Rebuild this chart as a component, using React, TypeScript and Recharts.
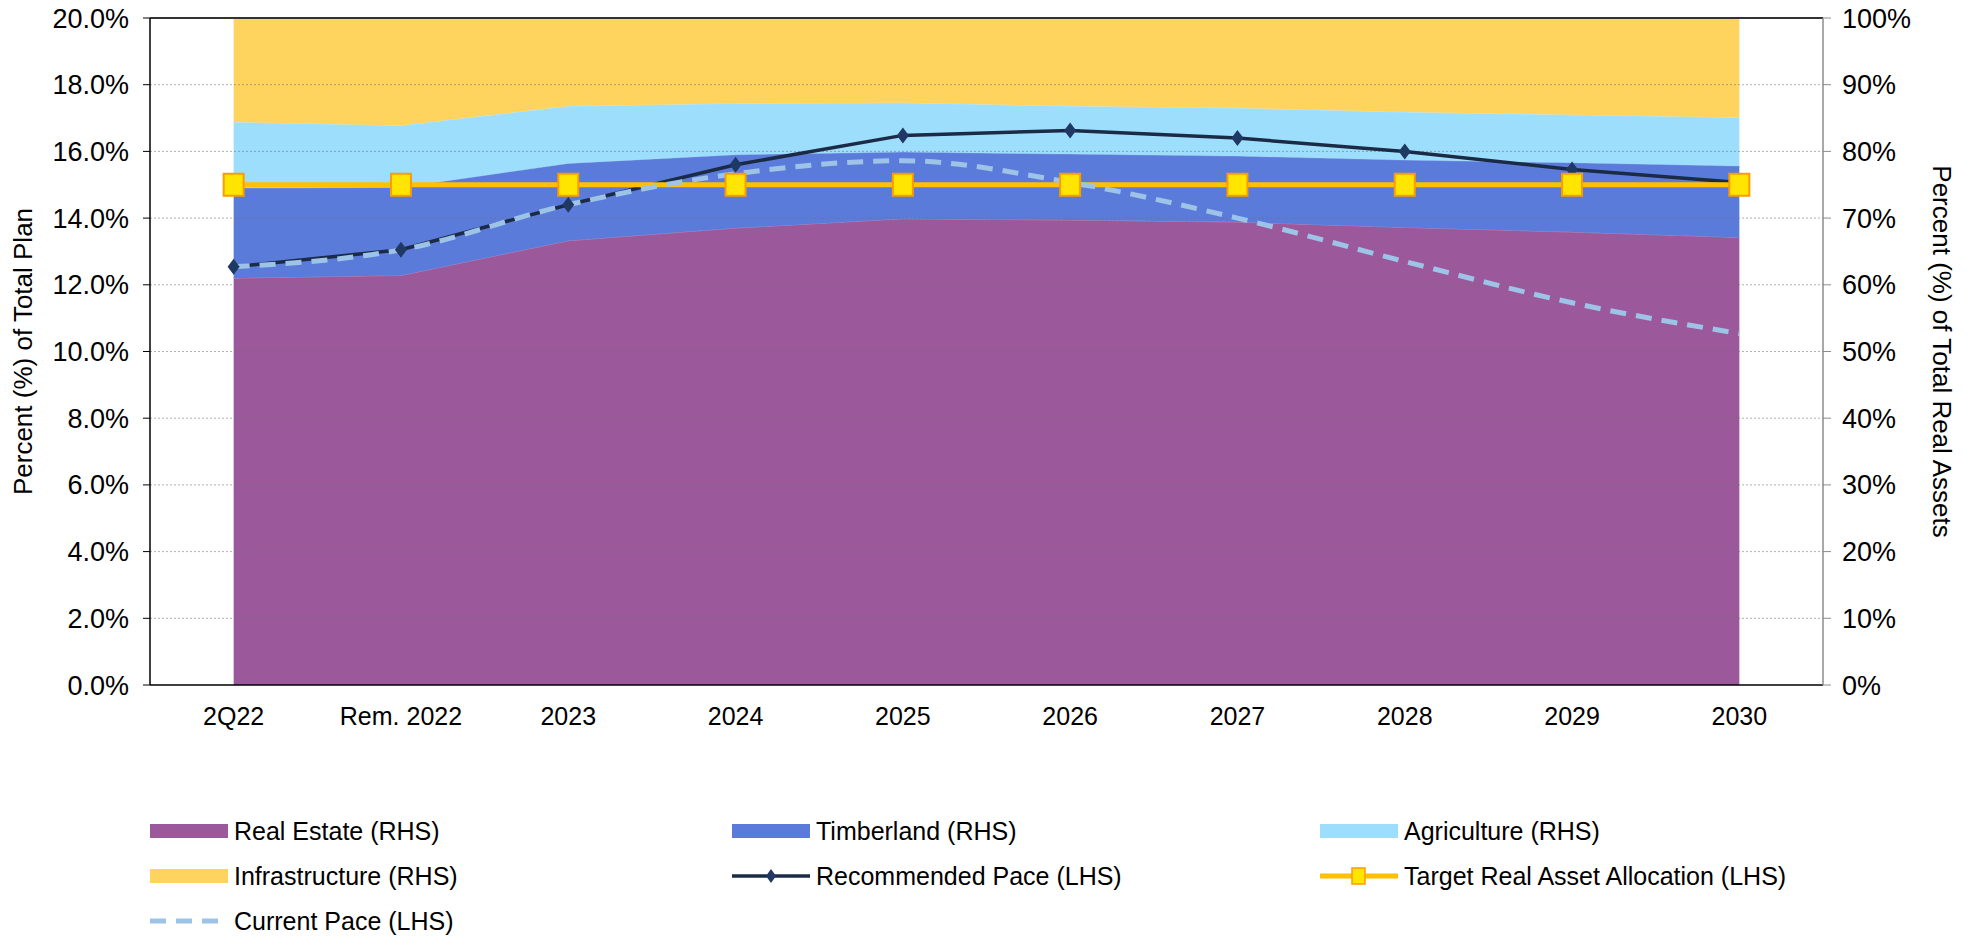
import { ComposedChart, Area, Line, XAxis, YAxis, ReferenceLine } from 'recharts';

const categories = ['2Q22', 'Rem. 2022', '2023', '2024', '2025', '2026', '2027', '2028', '2029', '2030'];

// RHS stack, % of total real assets
const realEstate = [61.0, 61.4, 66.6, 68.5, 69.9, 69.7, 69.4, 68.6, 67.9, 67.1];
const timberland = [13.5, 13.2, 11.6, 11.0, 10.0, 9.9, 9.9, 10.1, 10.4, 10.7];
const agriculture = [9.9, 9.3, 8.6, 7.7, 7.4, 7.2, 7.2, 7.2, 7.2, 7.3];
const infrastructure = [15.6, 16.1, 13.2, 12.8, 12.7, 13.2, 13.5, 14.1, 14.5, 14.9];

// LHS lines, % of total plan
const recommendedPace = [12.54, 13.05, 14.4, 15.6, 16.48, 16.63, 16.4, 16.0, 15.46, 15.07];
const targetAllocation = [15, 15, 15, 15, 15, 15, 15, 15, 15, 15];
const currentPace = [12.54, 13.05, 14.4, 15.33, 15.72, 15.07, 14.0, 12.7, 11.46, 10.54];

const leftTicks = [0, 2, 4, 6, 8, 10, 12, 14, 16, 18, 20];
const rightTicks = [0, 10, 20, 30, 40, 50, 60, 70, 80, 90, 100];
const gridLevels = [2, 4, 6, 8, 10, 12, 14, 16, 18];

const data = categories.map((cat, i) => ({
  i,
  cat,
  realEstate: realEstate[i],
  timberland: timberland[i],
  agriculture: agriculture[i],
  infrastructure: infrastructure[i],
  recommended: recommendedPace[i],
  target: targetAllocation[i],
  current: currentPace[i],
}));

const catIdx = categories.map((_, i) => i);
const edges = [...categories.map((_, i) => i - 0.5), categories.length - 0.5];

const FONT = '"Liberation Sans", Arial, sans-serif';
const C = {
  realEstate: '#9B599B',
  timberland: '#5B7BDB',
  agriculture: '#9DDEFD',
  infrastructure: '#FED45E',
  recommended: '#1C2B45',
  diamond: '#1F3864',
  target: '#FFC000',
  square: '#FFE500',
  squareEdge: '#FF9A00',
  current: '#9DC3E6',
};

const Diamond = (p: any) => {
  const { cx, cy, index } = p;
  if (cx == null || cy == null) return <g key={`d-${index}`} />;
  return <path key={`d-${index}`} d={`M${cx},${cy - 8}L${cx + 6},${cy}L${cx},${cy + 8}L${cx - 6},${cy}Z`} fill={C.diamond} />;
};

const Square = (p: any) => {
  const { cx, cy, index } = p;
  if (cx == null || cy == null) return <g key={`s-${index}`} />;
  return <rect key={`s-${index}`} x={cx - 10} y={cy - 11} width={20} height={22} fill={C.square} stroke={C.squareEdge} strokeWidth={2} />;
};

function LegendBlock() {
  const cols = [150, 732, 1320];
  const rows = [831, 876, 921];
  const items = [
    { name: 'Real Estate (RHS)', kind: 'box', color: C.realEstate },
    { name: 'Timberland (RHS)', kind: 'box', color: C.timberland },
    { name: 'Agriculture (RHS)', kind: 'box', color: C.agriculture },
    { name: 'Infrastructure (RHS)', kind: 'box', color: C.infrastructure },
    { name: 'Recommended Pace (LHS)', kind: 'rec', color: C.recommended },
    { name: 'Target Real Asset Allocation (LHS)', kind: 'tgt', color: C.target },
    { name: 'Current Pace (LHS)', kind: 'cur', color: C.current },
  ];
  return (
    <div style={{ position: 'absolute', left: 0, top: 0, width: 1971, height: 939, pointerEvents: 'none' }}>
      {items.map((it, k) => {
        const x = cols[k % 3];
        const y = rows[Math.floor(k / 3)];
        return (
          <div key={it.name}>
            <svg style={{ position: 'absolute', left: x, top: y - 15 }} width={80} height={30}>
              {it.kind === 'box' && <rect x={0} y={8} width={78} height={14} fill={it.color} />}
              {it.kind === 'rec' && (
                <g>
                  <line x1={0} y1={15} x2={78} y2={15} stroke={it.color} strokeWidth={3.5} />
                  <path d="M39,8L44,15L39,22L34,15Z" fill={C.diamond} />
                </g>
              )}
              {it.kind === 'tgt' && (
                <g>
                  <line x1={0} y1={15} x2={78} y2={15} stroke={it.color} strokeWidth={5} />
                  <rect x={32} y={7} width={13} height={16} fill={C.square} stroke={C.squareEdge} strokeWidth={1.5} />
                </g>
              )}
              {it.kind === 'cur' && (
                <line x1={0} y1={15} x2={78} y2={15} stroke={it.color} strokeWidth={5} strokeDasharray="16 10" />
              )}
            </svg>
            <span style={{ position: 'absolute', left: x + 84, top: y - 15, lineHeight: '30px', fontSize: 25, fontFamily: FONT, color: '#000', whiteSpace: 'nowrap' }}>
              {it.name}
            </span>
          </div>
        );
      })}
    </div>
  );
}

export default function App() {
  return (
    <div style={{ position: 'absolute', left: 0, top: 0, width: 1971, height: 939, background: '#fff' }}>
      <ComposedChart width={1971} height={760} data={data} margin={{ top: 18, right: 0, bottom: 15, left: 0 }}>
        {/* axis line + boundary tick marks between categories */}
        <XAxis
          type="number"
          dataKey="i"
          domain={[-0.5, 9.5]}
          ticks={edges}
          tick={false}
          tickSize={8}
          height={1}
          interval={0}
          axisLine={{ stroke: '#000', strokeWidth: 1.5 }}
          tickLine={{ stroke: '#000' }}
          allowDataOverflow
        />
        {/* category labels */}
        <XAxis
          xAxisId="lab"
          type="number"
          dataKey="i"
          domain={[-0.5, 9.5]}
          ticks={catIdx}
          tickFormatter={(v: number) => categories[v] ?? ''}
          tick={{ fontSize: 25, fill: '#000', fontFamily: FONT }}
          tickLine={false}
          axisLine={false}
          tickSize={8}
          tickMargin={13}
          height={59}
          interval={0}
          allowDataOverflow
        />
        <YAxis
          yAxisId="left"
          domain={[0, 20]}
          ticks={leftTicks}
          tickFormatter={(v: number) => `${v.toFixed(1)}%`}
          tick={{ fontSize: 27, fill: '#000', fontFamily: FONT }}
          axisLine={{ stroke: '#000', strokeWidth: 1.5 }}
          tickLine={{ stroke: '#000' }}
          tickSize={7}
          tickMargin={14}
          width={150}
          interval={0}
          label={{ value: 'Percent (%) of Total Plan', angle: -90, position: 'insideLeft', offset: 23, style: { textAnchor: 'middle', fontSize: 26, fill: '#000', fontFamily: FONT } }}
        />
        <YAxis
          yAxisId="right"
          orientation="right"
          domain={[0, 100]}
          ticks={rightTicks}
          tickFormatter={(v: number) => `${v}%`}
          tick={{ fontSize: 27, fill: '#000', fontFamily: FONT }}
          axisLine={{ stroke: '#8c8c8c', strokeWidth: 1.5 }}
          tickLine={{ stroke: '#8c8c8c' }}
          tickSize={8}
          tickMargin={11}
          width={148}
          interval={0}
          label={{ value: 'Percent (%) of Total Real Assets', angle: 90, position: 'insideRight', offset: 29, style: { textAnchor: 'middle', fontSize: 26, fill: '#000', fontFamily: FONT } }}
        />

        <Area yAxisId="right" type="linear" dataKey="realEstate" stackId="rhs" fill={C.realEstate} fillOpacity={1} stroke="#b07ab0" strokeWidth={1} isAnimationActive={false} />
        <Area yAxisId="right" type="linear" dataKey="timberland" stackId="rhs" fill={C.timberland} fillOpacity={1} stroke="#7d97e3" strokeWidth={1} isAnimationActive={false} />
        <Area yAxisId="right" type="linear" dataKey="agriculture" stackId="rhs" fill={C.agriculture} fillOpacity={1} stroke="#b9e8fe" strokeWidth={1} isAnimationActive={false} />
        <Area yAxisId="right" type="linear" dataKey="infrastructure" stackId="rhs" fill={C.infrastructure} fillOpacity={1} stroke="none" isAnimationActive={false} />

        {gridLevels.map(g => (
          <ReferenceLine key={`g-${g}`} yAxisId="left" y={g} stroke="#6f6f6f" strokeOpacity={0.55} strokeDasharray="2 2" />
        ))}
        <ReferenceLine yAxisId="left" y={20} stroke="#333" strokeWidth={2} />

        <Line yAxisId="left" type="linear" dataKey="recommended" stroke={C.recommended} strokeWidth={3.5} dot={Diamond} activeDot={false} isAnimationActive={false} />
        <Line yAxisId="left" type="linear" dataKey="target" stroke={C.target} strokeWidth={5} dot={Square} activeDot={false} isAnimationActive={false} />
        <Line yAxisId="left" type="monotone" dataKey="current" stroke={C.current} strokeWidth={5} strokeDasharray="16 10" dot={false} activeDot={false} isAnimationActive={false} />
      </ComposedChart>
      <LegendBlock />
    </div>
  );
}
